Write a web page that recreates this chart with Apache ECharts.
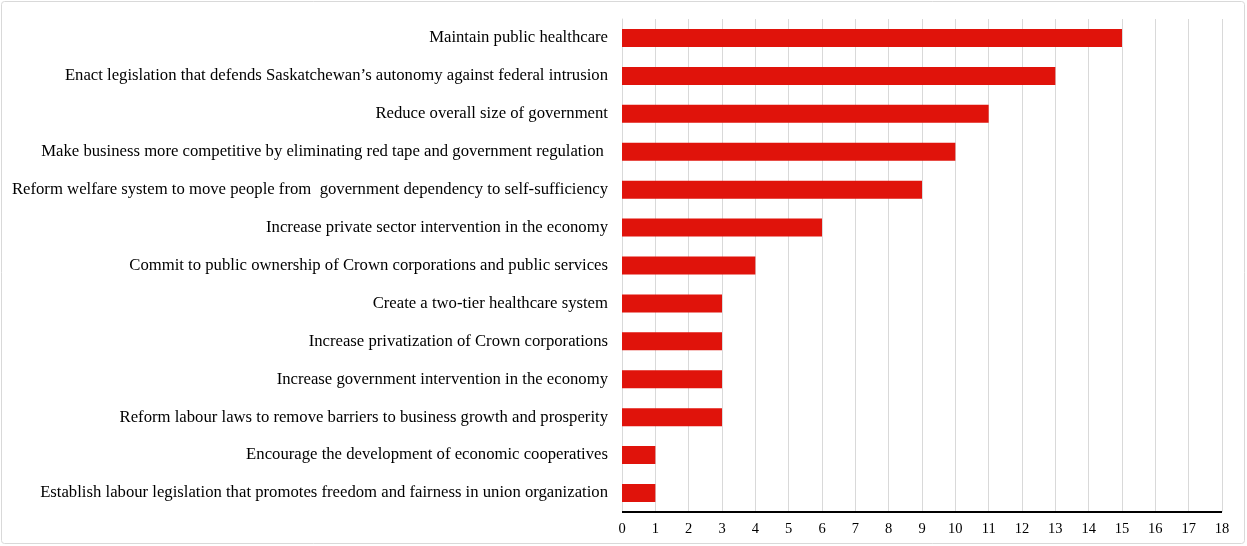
<!DOCTYPE html>
<html>
<head>
<meta charset="utf-8">
<script src="https://cdn.jsdelivr.net/npm/echarts@6/dist/echarts.min.js"></script>
<style>
  html, body { margin: 0; padding: 0; background: #ffffff; }
  #chart { width: 1247px; height: 546px; }
</style>
</head>
<body>
<div id="chart"></div>
<script>
// Policy priorities, listed top to bottom as shown
const categories = [
  "Maintain public healthcare",
  "Enact legislation that defends Saskatchewan\u2019s autonomy against federal intrusion",
  "Reduce overall size of government",
  "Make business more competitive by eliminating red tape and government regulation ",
  "Reform welfare system to move people from  government dependency to self-sufficiency",
  "Increase private sector intervention in the economy",
  "Commit to public ownership of Crown corporations and public services",
  "Create a two-tier healthcare system",
  "Increase privatization of Crown corporations",
  "Increase government intervention in the economy",
  "Reform labour laws to remove barriers to business growth and prosperity",
  "Encourage the development of economic cooperatives",
  "Establish labour legislation that promotes freedom and fairness in union organization"
];
const counts = [15, 13, 11, 10, 9, 6, 4, 3, 3, 3, 3, 1, 1];
const xTicks = [0, 1, 2, 3, 4, 5, 6, 7, 8, 9, 10, 11, 12, 13, 14, 15, 16, 17, 18];

const chart = echarts.init(document.getElementById('chart'), null, { renderer: 'canvas' });
const serif = '"Liberation Serif", "Times New Roman", serif';

chart.setOption({
  animation: false,
  backgroundColor: '#ffffff',
  graphic: [{
    type: 'rect',
    shape: { x: 1.5, y: 1.5, width: 1243, height: 542, r: 3 },
    style: { fill: 'none', stroke: '#d9d9d9', lineWidth: 1 },
    silent: true
  }],
  grid: { left: 622, right: 25, top: 19, bottom: 34, containLabel: false },
  xAxis: {
    type: 'value',
    min: xTicks[0],
    max: xTicks[xTicks.length - 1],
    interval: 1,
    axisLine: { show: false },
    axisTick: { show: false },
    axisLabel: { color: '#000000', fontFamily: serif, fontSize: 14.5, margin: 10 },
    splitLine: { show: true, lineStyle: { color: '#d9d9d9', width: 1 } }
  },
  yAxis: {
    type: 'category',
    data: categories.slice().reverse(),
    axisLine: { show: true, onZero: false, lineStyle: { color: '#d9d9d9', width: 1 } },
    axisTick: { show: false },
    axisLabel: { color: '#000000', fontFamily: serif, fontSize: 16.7, margin: 14 },
    splitLine: { show: false }
  },
  series: [{
    type: 'bar',
    data: counts.slice().reverse(),
    barWidth: 18,
    itemStyle: { color: '#e0130b' },
    silent: true
  }, {
    // black baseline along the bottom of the plot
    type: 'line',
    data: [],
    markLine: {
      silent: true,
      symbol: 'none',
      label: { show: false },
      lineStyle: { color: '#000000', width: 2, type: 'solid' },
      data: [[{ coord: [xTicks[0], 0], y: 512 }, { coord: [xTicks[xTicks.length - 1], 0], y: 512 }]]
    }
  }]
});
</script>
</body>
</html>
